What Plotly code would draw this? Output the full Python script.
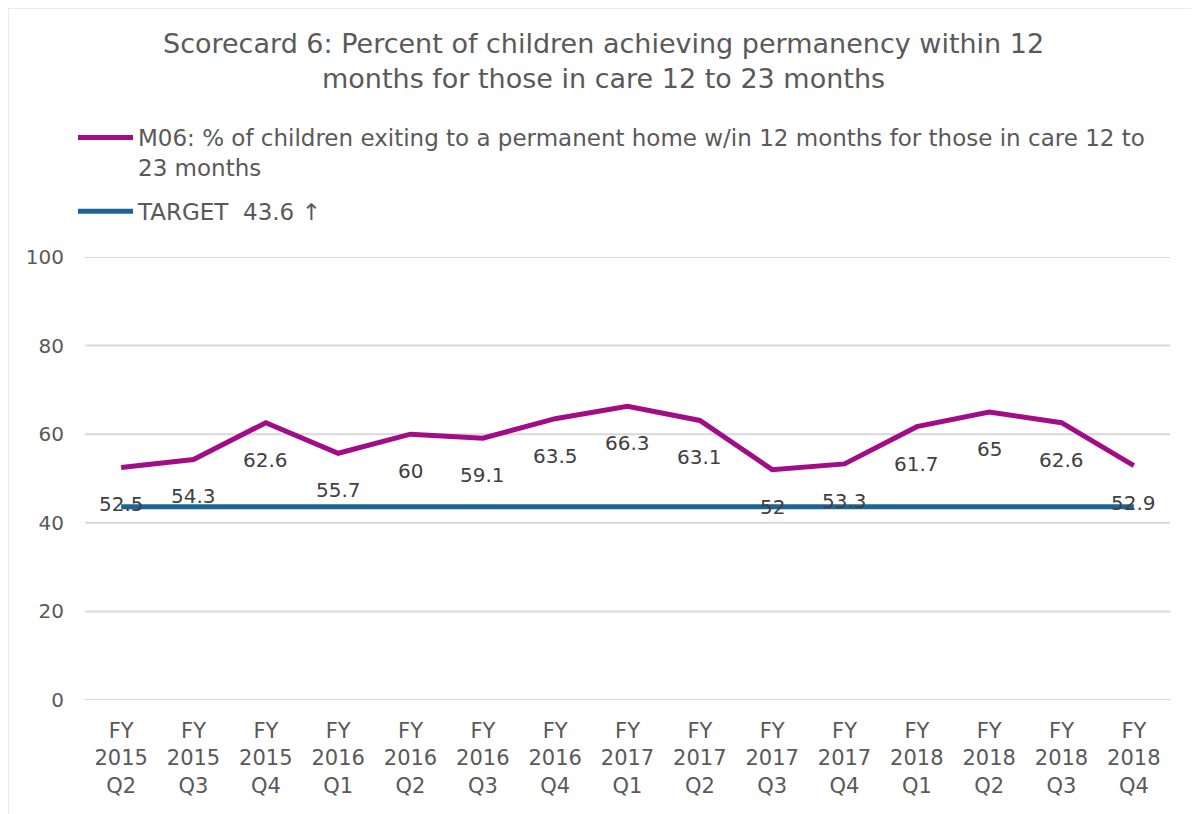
import plotly.graph_objects as go

categories = ["FY<br>2015<br>Q2", "FY<br>2015<br>Q3", "FY<br>2015<br>Q4", "FY<br>2016<br>Q1",
              "FY<br>2016<br>Q2", "FY<br>2016<br>Q3", "FY<br>2016<br>Q4", "FY<br>2017<br>Q1",
              "FY<br>2017<br>Q2", "FY<br>2017<br>Q3", "FY<br>2017<br>Q4", "FY<br>2018<br>Q1",
              "FY<br>2018<br>Q2", "FY<br>2018<br>Q3", "FY<br>2018<br>Q4"]
m06_values = [52.5, 54.3, 62.6, 55.7, 60, 59.1, 63.5, 66.3, 63.1, 52, 53.3, 61.7, 65, 62.6, 52.9]
target_values = [43.6] * 15
m06_name = "M06: % of children exiting to a permanent home w/in 12 months for those in care 12 to<br>23 months"
target_name = "TARGET  43.6 ↑"
y_ticks = [0, 20, 40, 60, 80, 100]
title_text = "Scorecard 6: Percent of children achieving permanency within 12<br>months for those in care 12 to 23 months"

FONT = "'DejaVu Sans', sans-serif"
TEXT = "#595959"
MAGENTA = "#A20C86"
BLUE = "#1B6494"
GRID = "#D9D9D9"

# page offset of 8px (body margin) -> figure coords = page - 8
OFF = 8
W, H = 1199, 814
ML, MT = 85 - OFF, 257 - OFF
PR, PB = 1170 - OFF, 700 - OFF
MR, MB = W - PR, H - PB
PW, PH = PR - ML, PB - MT


def px_x(x):
    return (x - OFF - ML) / PW


def px_y(y):
    return (PB - (y - OFF)) / PH


fig = go.Figure()
fig.add_trace(go.Scatter(x=categories, y=m06_values, mode="lines", name=m06_name, legendgroup="a",
                         line=dict(color=MAGENTA, width=5), hoverinfo="y"))
fig.add_trace(go.Scatter(x=categories, y=target_values, mode="lines", name=target_name, legendgroup="b",
                         line=dict(color=BLUE, width=5), hoverinfo="y"))

annotations = []
for c, v in zip(categories, m06_values):
    annotations.append(dict(x=c, y=v, xref="x", yref="y", text=f"{v:g}", showarrow=False,
                            yshift=-37, font=dict(family=FONT, size=20, color="#404040")))

annotations.append(dict(text=title_text, xref="paper", yref="paper", x=px_x(603), y=px_y(61),
                        xanchor="center", yanchor="middle", showarrow=False,
                        font=dict(family=FONT, size=27, color=TEXT)))

shapes = [dict(type="line", xref="paper", yref="y", x0=0, x1=1, y0=t, y1=t,
               line=dict(color=GRID, width=2), layer="below") for t in y_ticks]
shapes.append(dict(type="rect", xref="paper", yref="paper",
                   x0=px_x(7.5), x1=px_x(1197), y0=px_y(840), y1=px_y(7.5),
                   line=dict(color=GRID, width=2), layer="below"))

fig.update_layout(
    width=W, height=H,
    margin=dict(l=ML, r=MR, t=MT, b=MB, autoexpand=False),
    paper_bgcolor="white", plot_bgcolor="white",
    font=dict(family=FONT, size=20, color=TEXT),
    showlegend=True,
    legend=dict(x=px_x(73), y=px_y(116), xanchor="left", yanchor="top", valign="top",
                font=dict(family=FONT, size=23, color=TEXT), itemwidth=55,
                tracegroupgap=11, bgcolor="rgba(0,0,0,0)"),
    xaxis=dict(range=[-0.5, 14.5], showgrid=False, showline=False, zeroline=False,
               ticks="", ticklabelstandoff=16,
               tickfont=dict(family=FONT, size=21, color=TEXT), fixedrange=True),
    yaxis=dict(range=[0, 100], tickvals=y_ticks, showgrid=False,
               zeroline=False, showline=False, ticks="", ticklabelstandoff=20,
               tickfont=dict(family=FONT, size=20, color=TEXT), fixedrange=True),
    annotations=annotations,
    shapes=shapes,
)

fig.write_html("out.html")
